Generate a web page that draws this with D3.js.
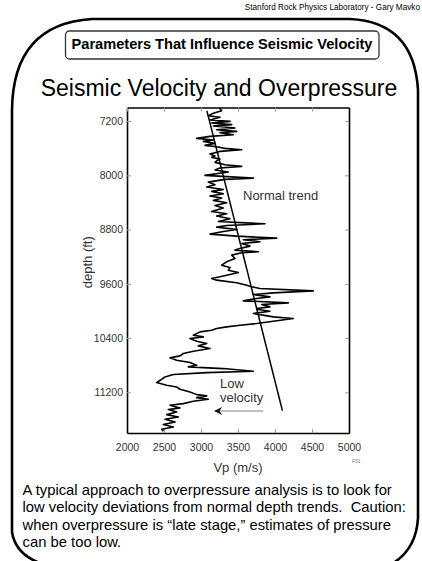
<!DOCTYPE html>
<html>
<head>
<meta charset="utf-8">
<script src="https://cdn.jsdelivr.net/npm/d3@7/dist/d3.min.js"></script>
<style>
  html, body { margin: 0; padding: 0; background: #fff; overflow: hidden; }
  svg { display: block; }
</style>
</head>
<body>
<div id="chart"></div>
<script>
// Sonic log (Vp vs depth), with the normal compaction trend.
const depthFt = [
  7007, 7047, 7086, 7121, 7145, 7185, 7204, 7229, 7253, 7273, 7303, 7327, 7352, 7371, 7401, 7426,
  7455, 7480, 7499, 7529, 7558, 7578, 7603, 7622, 7647, 7686, 7716, 7735, 7760, 7785, 7809, 7844,
  7868, 7893, 7922, 7952,
  8001, 8041, 8060, 8100, 8139, 8173, 8208, 8237, 8272, 8306, 8336, 8370, 8405, 8444, 8483, 8533,
  8567, 8601, 8641, 8680, 8715, 8739, 8764, 8798, 8828, 8867, 8897, 8926, 8951,
  8980, 9005, 9044, 9079, 9103, 9128, 9143, 9177, 9226, 9276, 9325, 9359, 9399, 9433, 9462, 9497,
  9521, 9546, 9585, 9620, 9644, 9669, 9704, 9733, 9758, 9792, 9817, 9851, 9881, 9905, 9940, 9964,
  9974, 10004, 10038, 10087, 10112, 10151, 10186, 10210, 10235, 10260, 10284, 10309, 10358, 10383,
  10407, 10447, 10481, 10515, 10555, 10594, 10628, 10663, 10692, 10727, 10761, 10801, 10825,
  10850, 10889, 10909, 10938, 10973, 11007, 11056, 11096, 11121, 11155, 11194, 11234, 11253, 11278,
  11303, 11332, 11367, 11391, 11430, 11455, 11490, 11529, 11563, 11598, 11637, 11676, 11711, 11745,
  11775
];
const vpMs = [
  3248, 3279, 3167, 3099, 3257, 3122, 3392, 3144, 3415, 3167, 3459, 3212, 3482, 3257, 3437, 3122,
  2942, 3167, 3032, 3189, 3054, 3212, 3324, 3550, 3257, 3122, 3189, 3144, 3257, 3212, 3189, 3324,
  3550, 3257, 3189, 3369,
  3054, 3707, 3324, 3099, 3189, 3077, 3302, 3144, 3302, 3122, 3279, 3167, 3347, 3189, 3302, 3144,
  3347, 3212, 3392, 3234, 3865, 3347, 3212, 3482, 3302, 3122, 3482, 4023, 3572,
  3797, 3550, 3662, 3527, 3459, 3775, 3550, 3415, 3459, 3347, 3279, 3392, 3369, 3505, 3392, 3257,
  3144, 3212, 3482, 3617, 3685, 3797, 4518, 3977, 3707, 3932, 3752, 3572, 4180, 3820, 3932, 3752,
  3752, 3932, 3707, 3977, 4248, 3977, 3752, 3527, 3347, 3212, 3144, 2987, 2896, 3032,
  2851, 2942, 3077, 2964, 3122, 2896, 2761, 2716, 2581, 2671, 2851, 2942, 2829,
  3302, 3707, 3077, 2626, 2514, 2469, 2400, 2536, 2671, 2716, 2851, 2942, 3077, 2942,
  3099, 2896, 2761, 2581, 2716, 2559, 2671, 2536, 2694, 2514, 2649, 2491, 2626, 2469,
  2491
];
const trendDepth = [7050, 11470];
const trendVp = [3080, 4100];
const arrowDepth = 11475;
const arrowVp = [3840, 3190];

const xTicks = [2000, 2500, 3000, 3500, 4000, 4500, 5000];
const yTicks = [7200, 8000, 8800, 9600, 10400, 11200];

const paragraph = [
  'A typical approach to overpressure analysis is to look for',
  'low velocity deviations from normal depth trends.  Caution:',
  'when overpressure is \u201clate stage,\u201d estimates of pressure',
  'can be too low.'
];

const W = 422, H = 561;
const FONT = '"Liberation Sans", Arial, Helvetica, sans-serif';

const svg = d3.select('#chart').append('svg')
  .attr('width', W).attr('height', H)
  .attr('font-family', FONT);

// slide frame
svg.append('path')
  .attr('d', 'M12,532 L12,110 Q13,24 92,19 L350,19 Q414,22 418,90 L418,518 Q416,552 388,566 L50,566 Q16,558 12,532 Z')
  .attr('fill', 'none').attr('stroke', '#000').attr('stroke-width', 2.6);

svg.append('text')
  .attr('x', 420).attr('y', 9.5)
  .attr('text-anchor', 'end')
  .attr('font-size', 8.2).attr('fill', '#000')
  .text('Stanford Rock Physics Laboratory - Gary Mavko');

// header box
svg.append('rect')
  .attr('x', 65.5).attr('y', 31).attr('width', 313.5).attr('height', 28)
  .attr('rx', 4).attr('fill', '#fff').attr('stroke', '#333').attr('stroke-width', 1.3);
svg.append('text')
  .attr('x', 222).attr('y', 48.5)
  .attr('text-anchor', 'middle').attr('font-size', 14.6).attr('font-weight', 'bold')
  .text('Parameters That Influence Seismic Velocity');

svg.append('text')
  .attr('x', 219).attr('y', 96)
  .attr('text-anchor', 'middle').attr('font-size', 23)
  .text('Seismic Velocity and Overpressure');

// plot
const x = d3.scaleLinear().domain([2000, 5000]).range([127, 349]);
const y = d3.scaleLinear().domain([7000, 11800]).range([107.5, 433]);

const plot = svg.append('g');

function styleAxis(g) {
  g.selectAll('.tick line').attr('stroke', '#999').attr('stroke-width', 1);
  g.select('.domain').attr('stroke', '#000').attr('stroke-width', 1.6);
  g.selectAll('text').attr('font-family', FONT).attr('font-size', 10.5).attr('fill', '#333');
}

plot.append('g')
  .attr('transform', `translate(0,${y.range()[1]})`)
  .call(d3.axisBottom(x).tickValues(xTicks).tickFormat(d3.format('d'))
    .tickSizeInner(-4).tickSizeOuter(0).tickPadding(10.5))
  .call(styleAxis);
plot.append('g')
  .attr('transform', `translate(${x.range()[0]},0)`)
  .call(d3.axisLeft(y).tickValues(yTicks).tickFormat(d3.format('d'))
    .tickSizeInner(-4).tickSizeOuter(0).tickPadding(4))
  .call(styleAxis);
plot.append('g')
  .attr('transform', `translate(0,${y.range()[0]})`)
  .call(d3.axisTop(x).tickValues(xTicks).tickSizeInner(-4).tickSizeOuter(0).tickFormat(''))
  .call(styleAxis);
plot.append('g')
  .attr('transform', `translate(${x.range()[1]},0)`)
  .call(d3.axisRight(y).tickValues(yTicks).tickSizeInner(-4).tickSizeOuter(0).tickFormat(''))
  .call(styleAxis);

const logPts = depthFt.map((d, i) => [vpMs[i], d]);
plot.append('path')
  .datum(logPts)
  .attr('fill', 'none').attr('stroke', '#000').attr('stroke-width', 1.6)
  .attr('stroke-linejoin', 'round')
  .attr('d', d3.line().x(d => x(d[0])).y(d => y(d[1])));

plot.append('line')
  .attr('x1', x(trendVp[0])).attr('y1', y(trendDepth[0]))
  .attr('x2', x(trendVp[1])).attr('y2', y(trendDepth[1]))
  .attr('stroke', '#000').attr('stroke-width', 1.5);

// low velocity arrow
svg.append('defs').append('marker')
  .attr('id', 'arrowHead')
  .attr('viewBox', '0 -4 8 8')
  .attr('refX', 7).attr('refY', 0)
  .attr('markerWidth', 8).attr('markerHeight', 8)
  .attr('markerUnits', 'userSpaceOnUse')
  .attr('orient', 'auto')
  .append('path').attr('d', 'M0,-4L8,0L0,4L2.5,0Z').attr('fill', '#111');

plot.append('line')
  .attr('x1', x(arrowVp[0])).attr('y1', y(arrowDepth))
  .attr('x2', x(arrowVp[1])).attr('y2', y(arrowDepth))
  .attr('stroke', '#aaa').attr('stroke-width', 1.6)
  .attr('marker-end', 'url(#arrowHead)');

plot.append('text')
  .attr('x', 243).attr('y', 199.5)
  .attr('font-size', 13).attr('fill', '#333')
  .text('Normal trend');
plot.append('text')
  .attr('x', 220).attr('y', 388)
  .attr('font-size', 13).attr('fill', '#333')
  .text('Low');
plot.append('text')
  .attr('x', 220).attr('y', 401.5)
  .attr('font-size', 13).attr('fill', '#333')
  .text('velocity');

plot.append('text')
  .attr('transform', `translate(92,${(y.range()[0] + y.range()[1]) / 2 - 8}) rotate(-90)`)
  .attr('text-anchor', 'middle').attr('font-size', 13).attr('fill', '#333')
  .text('depth (ft)');
plot.append('text')
  .attr('x', 238).attr('y', 471.5)
  .attr('text-anchor', 'middle').attr('font-size', 13).attr('fill', '#333')
  .text('Vp (m/s)');
plot.append('text')
  .attr('x', 352).attr('y', 463)
  .attr('font-size', 5).attr('fill', '#777')
  .text('F31');

// caption
svg.append('g').selectAll('text')
  .data(paragraph)
  .join('text')
  .attr('x', 22.5)
  .attr('y', (d, i) => 494.5 + i * 17.5)
  .attr('font-size', 14.8).attr('fill', '#000')
  .style('white-space', 'pre')
  .text(d => d);
</script>
</body>
</html>
